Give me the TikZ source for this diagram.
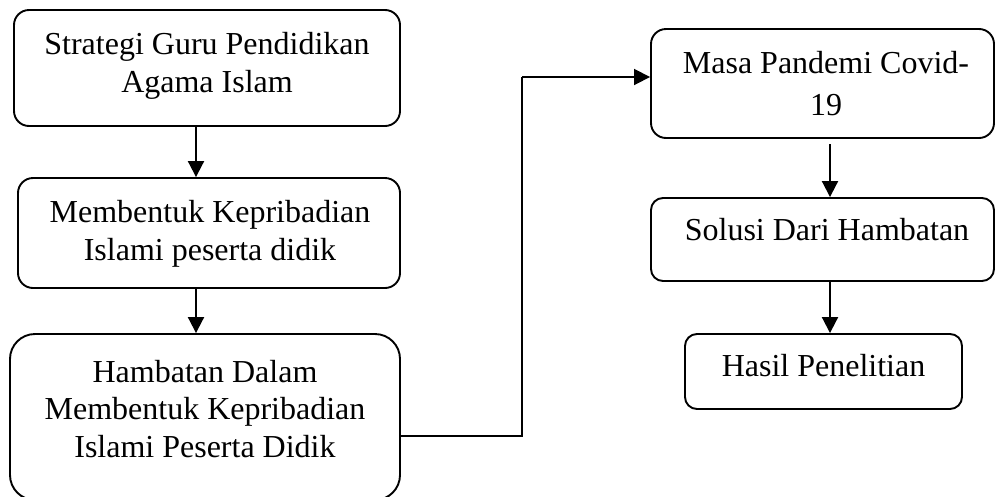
\documentclass[tikz,border=0pt]{standalone}
\usepackage{fontspec}
\setmainfont{Liberation Serif}
\usetikzlibrary{arrows.meta}
\tikzset{
  box/.style={draw=black, line width=1.9pt, fill=white, inner sep=0pt},
  txt/.style={align=center, inner sep=0pt, font=\fontsize{32}{37.5}\selectfont},
  arr/.style={line width=2pt, -{Triangle[length=16pt,width=16pt]}},
  conn/.style={line width=1.8pt}
}
\begin{document}
\begin{tikzpicture}[x=1pt,y=-1pt]
\clip (0,0) rectangle (995,496);
\fill[white] (0,0) rectangle (995,496);
% boxes
\node[box, minimum width=386pt, minimum height=116pt, rounded corners=15pt] (b1) at (207,68) {};
\node[box, minimum width=382pt, minimum height=110pt, rounded corners=15pt] (b2) at (209,233) {};
\node[box, minimum width=390pt, minimum height=166pt, rounded corners=25pt] (b3) at (205,417) {};
\node[box, minimum width=343pt, minimum height=109pt, rounded corners=15pt] (b4) at (822.5,83.5) {};
\node[box, minimum width=343pt, minimum height=83pt, rounded corners=12pt] (b5) at (822.5,239.5) {};
\node[box, minimum width=277pt, minimum height=75pt, rounded corners=12pt] (b6) at (823.5,371.5) {};
% texts
\node[txt] (t1) at (207,66) {Strategi Guru Pendidikan\\Agama Islam};
\node[txt] (t2) at (210,234) {Membentuk Kepribadian\\Islami peserta didik};
\node[txt] (t3) at (205,409) {Hambatan Dalam\\Membentuk Kepribadian\\Islami Peserta Didik};
\node[txt, font=\fontsize{32}{42}\selectfont] (t4) at (826,84) {Masa Pandemi Covid-\\19};
\node[txt] (t5) at (827,230) {Solusi Dari Hambatan};
\node[txt] (t6) at (823.5,366) {Hasil Penelitian};
% connectors
\coordinate (xl) at (196,0);
\coordinate (xr) at (830,0);
\coordinate (s4) at (830,144);
\coordinate (c1) at (522,436);
\coordinate (c2) at (522,77);
\draw[arr] (b1.south -| xl) -- (b2.north -| xl);
\draw[arr] (b2.south -| xl) -- (b3.north -| xl);
\draw[arr] (s4) -- (b5.north -| xr);
\draw[arr] (b5.south -| xr) -- (b6.north -| xr);
\draw[conn] (b3.east |- c1) -- (c1) -- (c2);
\draw[arr, line width=1.8pt] (c2) -- (b4.west |- c2);
\end{tikzpicture}
\end{document}
